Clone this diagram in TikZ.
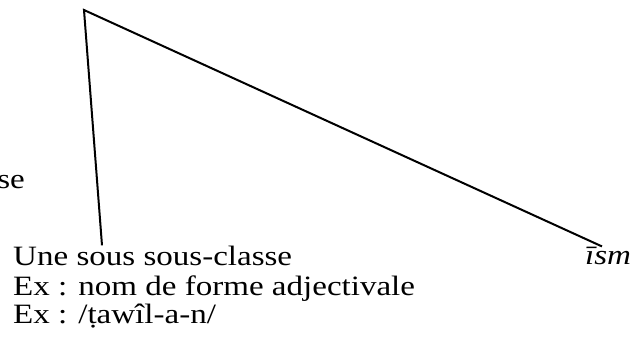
\documentclass[tikz,border=0pt]{standalone}
\usepackage{fontspec}
\setmainfont{Liberation Serif}[FakeStretch=1.18]
\usetikzlibrary{calc}

\begin{document}
\begin{tikzpicture}[x=1pt, y=-1pt, every node/.style={font=\fontsize{28}{30}\selectfont, inner sep=0pt, anchor=base west}]
\useasboundingbox (0,0) rectangle (633,349);
\coordinate (top) at (84,10);
\node[anchor=base east] (se) at (25,188) {se};
\node (sub) at (13,265) {Une sous sous-classe};
\node (ex1) at (13,295) {Ex : nom de forme adjectivale};
\node (ex2) at (13,323) {Ex : /ṭawîl-a-n/};
\node (ism) at (585,264) {\textit{īsm}};
\draw[line width=2pt] ([xshift=89pt]sub.north west) -- (top) -- ([xshift=17pt]ism.north west);
\end{tikzpicture}
\end{document}
